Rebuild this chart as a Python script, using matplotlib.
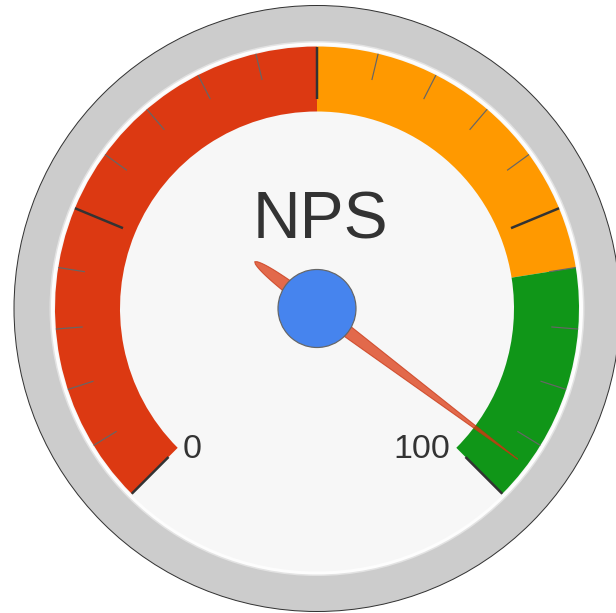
import numpy as np
import matplotlib
matplotlib.use("Agg")
import matplotlib.pyplot as plt
from matplotlib.patches import Circle, Wedge, Polygon

# ---- data ----
gauge_label = "NPS"
gauge_min = 0
gauge_max = 100
gauge_value = 97
band_from = [0, 50, 80]
band_to = [50, 80, 100]
band_colors = ["#dc3912", "#ff9900", "#109618"]
major_ticks = [0, 25, 50, 75, 100]
minor_step = 5
end_labels = ["0", "100"]

W, H = 616, 613
DPI = 100
fig = plt.figure(figsize=(W / DPI, H / DPI), dpi=DPI)
fig.patch.set_facecolor("white")
ax = fig.add_axes([0, 0, 1, 1])
ax.set_xlim(0, W)
ax.set_ylim(0, H)
ax.set_aspect("equal")
ax.axis("off")

px = 72 / DPI  # points per pixel
cx, cy = 317, H - 308.5
R_out = 303
R_face = 266
R_band_out = 262
R_band_in = 197
R_major_in = 210
R_minor_in = 235


def ang(v):
    return 225 - 270 * (v - gauge_min) / (gauge_max - gauge_min)


def pt(r, a):
    t = np.deg2rad(a)
    return cx + r * np.cos(t), cy + r * np.sin(t)


# outer ring
ax.add_patch(Circle((cx, cy), R_out, facecolor="#cccccc", edgecolor="#333333", lw=1 * px, zorder=1))
ax.add_patch(Circle((cx, cy), R_face + 1.5, facecolor="#e3e3e3", edgecolor="none", zorder=2))
ax.add_patch(Circle((cx, cy), R_face, facecolor="#fdfdfd", edgecolor="none", zorder=2))
ax.add_patch(Circle((cx, cy), R_face - 3, facecolor="#f7f7f7", edgecolor="none", zorder=2))

# bands
for f, t, c in zip(band_from, band_to, band_colors):
    ax.add_patch(Wedge((cx, cy), R_band_out, ang(t), ang(f), width=R_band_out - R_band_in,
                       facecolor=c, edgecolor="none", zorder=3))

# ticks
for v in np.arange(gauge_min, gauge_max + 0.001, minor_step):
    a = ang(v)
    if v in major_ticks:
        x0, y0 = pt(R_band_out, a)
        x1, y1 = pt(R_major_in, a)
        ax.plot([x0, x1], [y0, y1], color="#333333", lw=2.5 * px, zorder=4, solid_capstyle="butt")
    else:
        x0, y0 = pt(R_band_out, a)
        x1, y1 = pt(R_minor_in, a)
        ax.plot([x0, x1], [y0, y1], color="#666666", lw=1.2 * px, zorder=4, solid_capstyle="butt")

# labels
ax.text(cx + 3, H - 238.5, gauge_label, fontsize=66 * px, color="#333333",
        family="Liberation Sans", ha="center", va="baseline", zorder=5)
ax.text(192, H - 458.5, end_labels[0], fontsize=34 * px, color="#333333",
        family="Liberation Sans", ha="center", va="baseline", zorder=5)
ax.text(421.5, H - 458.5, end_labels[1], fontsize=34 * px, color="#333333",
        family="Liberation Sans", ha="center", va="baseline", zorder=5)

# needle
L_tip = 251
L_tail = 78
hw = 7.0
s_tail = np.linspace(-L_tail, 0, 40)
w_tail = hw * np.sqrt(np.clip(1 - (s_tail / L_tail) ** 2, 0, 1)) * 0.85 + hw * 0.15 * (1 - (s_tail / L_tail) ** 8)
s_head = np.linspace(0, L_tip, 60)
w_head = hw * (1 - s_head / L_tip)
s_all = np.concatenate([s_tail, s_head[1:]])
w_all = np.concatenate([w_tail, w_head[1:]])
upper = np.column_stack([s_all, w_all])
lower = np.column_stack([s_all[::-1], -w_all[::-1]])
local = np.vstack([upper, lower])
a = np.deg2rad(ang(gauge_value))
rot = np.array([[np.cos(a), -np.sin(a)], [np.sin(a), np.cos(a)]])
pts = local @ rot.T + np.array([cx, cy])
ax.add_patch(Polygon(pts, closed=True, facecolor="#dc3912", alpha=0.75, edgecolor="#c63310",
                     lw=1 * px, zorder=6))

# hub
ax.add_patch(Circle((cx, cy), 39, facecolor="#4684ee", edgecolor="#666666", lw=1.2 * px, zorder=7))

fig.savefig("out.png", dpi=DPI, facecolor="white")
